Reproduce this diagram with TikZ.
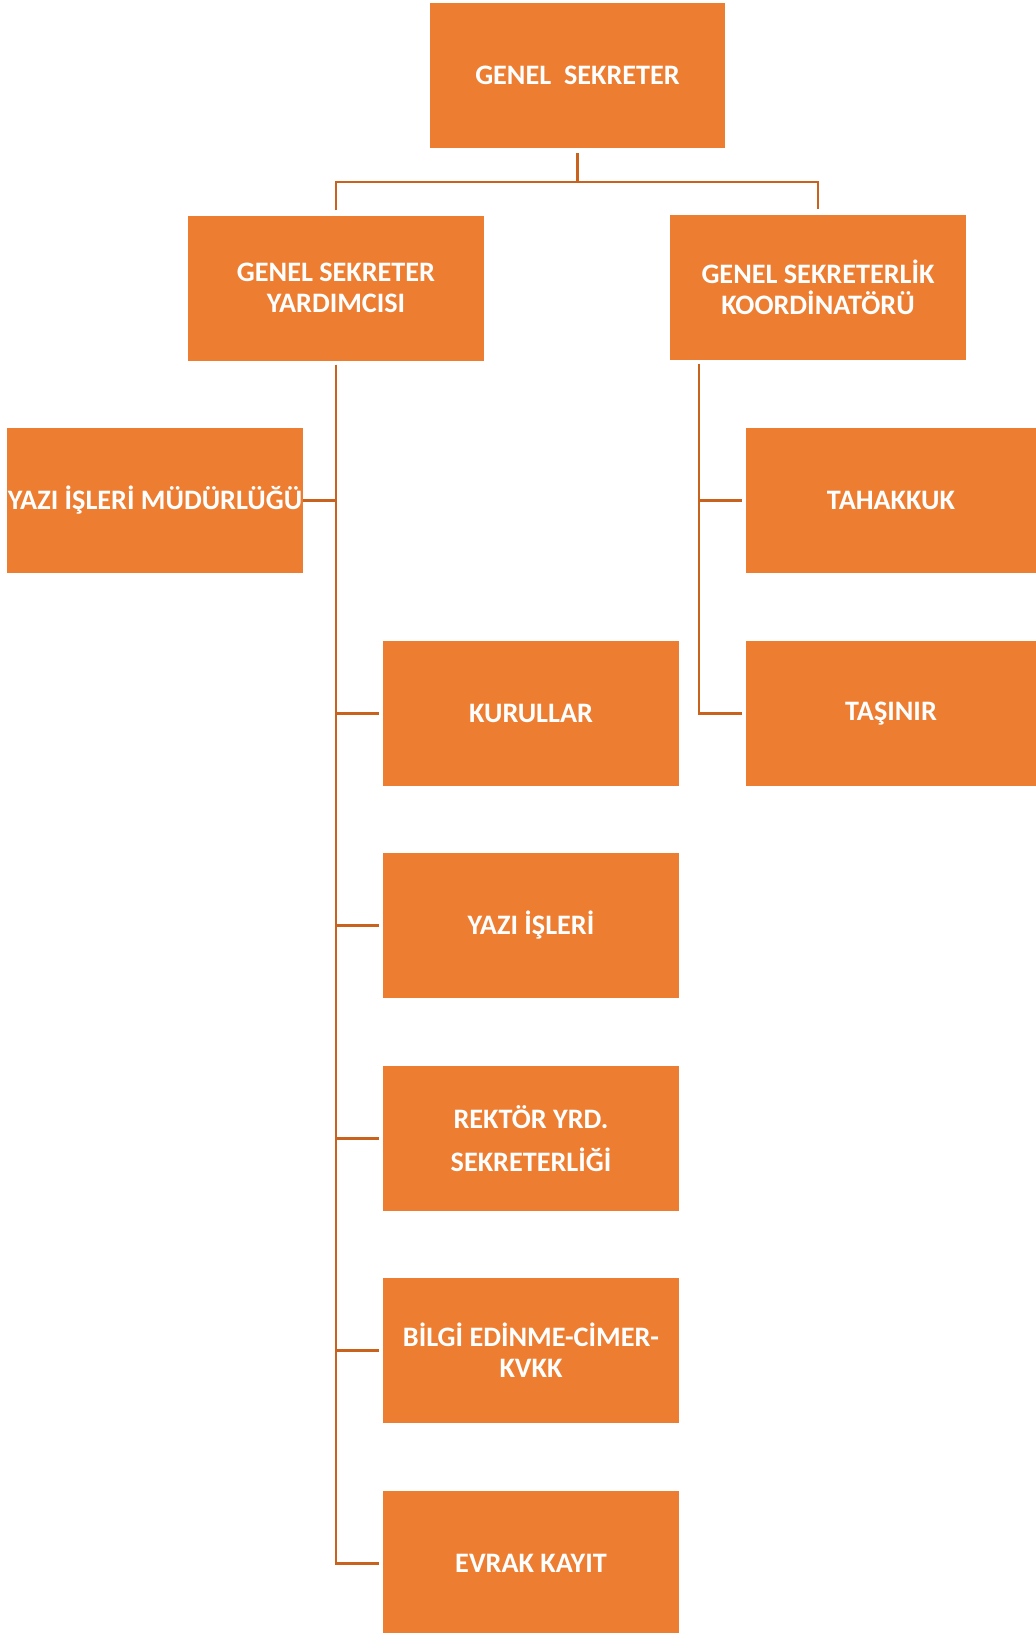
\documentclass[tikz,border=0pt]{standalone}
\usepackage{fontspec}
\setmainfont{Carlito}
\usetikzlibrary{calc}
\definecolor{boxfill}{HTML}{ED7D31}
\definecolor{linecol}{HTML}{C9621C}
\tikzset{
  unit/.style={fill=boxfill, draw=none, text=white, font=\fontsize{28.2}{31}\selectfont\bfseries,
    minimum width=296pt, minimum height=145pt, inner sep=0pt, align=center},
  conn/.style={draw=linecol, line width=2.6pt}
}
\begin{document}
\begin{tikzpicture}[x=1pt,y=-1pt]
\useasboundingbox (0,0) rectangle (1036,1633);
\node[unit, minimum width=295pt] (gs) at (577.5,75.5) {GENEL\ \ SEKRETER};
\node[unit] (gsy) at (336,288) {GENEL SEKRETER\\YARDIMCISI};
\node[unit] (gsk) at (818,287) {GENEL SEKRETERLİK\\KOORDİNATÖRÜ};
\node[unit] (yim) at (155,500.5) {YAZI İŞLERİ MÜDÜRLÜĞÜ};
\node[unit, minimum width=290pt] (tah) at (891,500.5) {TAHAKKUK};
\node[unit, minimum width=290pt] (tas) at (891,713.5) {TAŞINIR};
\node[unit] (kur) at (531,713.5) {KURULLAR};
\node[unit] (yaz) at (531,925.5) {YAZI İŞLERİ};
\node[unit] (rek) at (531,1138.5) {REKTÖR YRD.\\[11.5pt]SEKRETERLİĞİ};
\node[unit] (bil) at (531,1350.5) {BİLGİ EDİNME-CİMER-\\KVKK};
\node[unit] (evr) at (531,1563.5) {EVRAK KAYIT};
\coordinate (j0) at (577.5,182);
\coordinate (tr) at ([xshift=29pt]gsk.south west);
% top level
\draw[conn, shorten <=5pt] (gs.south) -- (j0);
\draw[conn, shorten <=5pt, shorten >=5pt] (gsy.north) -- (j0 -| gsy.north) -- (j0 -| gsk.north) -- (gsk.north);
% left trunk
\draw[conn, shorten <=4pt, shorten >=4pt] (gsy.south) -- (gsy.south |- evr.west) -- (evr.west);
\draw[conn] (yim.east) -- (yim.east -| gsy.south);
\draw[conn, shorten >=4pt] (kur.west -| gsy.south) -- (kur.west);
\draw[conn, shorten >=4pt] (yaz.west -| gsy.south) -- (yaz.west);
\draw[conn, shorten >=4pt] (rek.west -| gsy.south) -- (rek.west);
\draw[conn, shorten >=4pt] (bil.west -| gsy.south) -- (bil.west);
% right trunk
\draw[conn, shorten <=4pt, shorten >=4pt] (tr) -- (tr |- tas.west) -- (tas.west);
\draw[conn, shorten >=4pt] (tr |- tah.west) -- (tah.west);
\end{tikzpicture}
\end{document}
